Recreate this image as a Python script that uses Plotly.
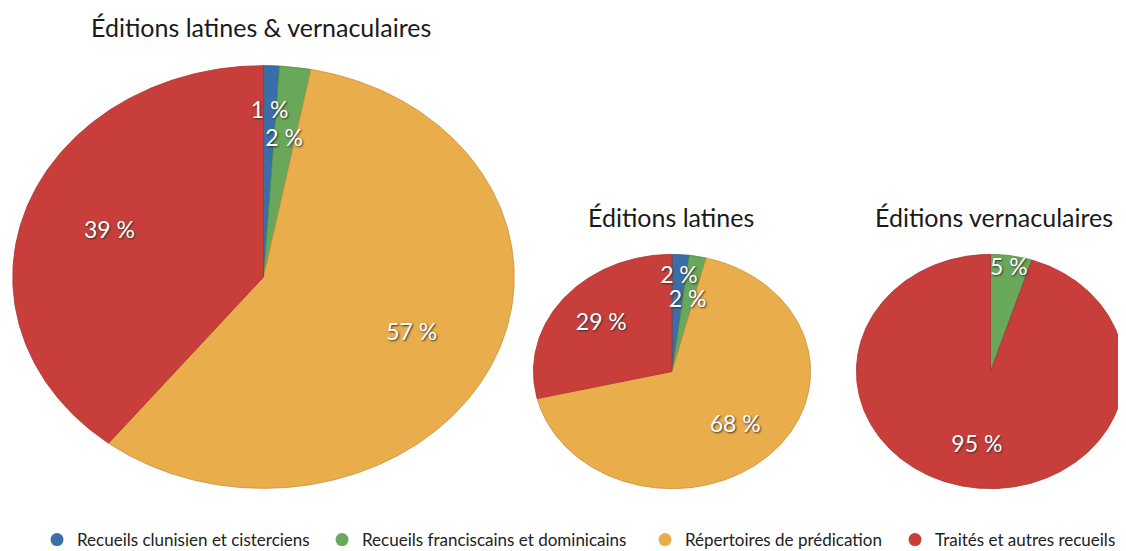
import numpy as np
import plotly.graph_objects as go

# catégories et couleurs
categories = [
    "Recueils clunisien et cisterciens",
    "Recueils franciscains et dominicains",
    "Répertoires de prédication",
    "Traités et autres recueils",
]
colors = ["#3a6ea8", "#69a75a", "#e9ad4b", "#c73e3b"]
edge_colors = ["#2c5585", "#4f8a43", "#c98f33", "#a83331"]

titles = ["Éditions latines & vernaculaires", "Éditions latines", "Éditions vernaculaires"]
vals_total = [1, 2, 57, 39]
vals_latin = [2, 2, 68, 29]
vals_vern = [0, 5, 0, 95]
series = [vals_total, vals_latin, vals_vern]

OFF = 8  # marge du body html
W, H = 1126 - OFF, 551 - OFF
# boîtes des ellipses en pixels de la fenêtre (gauche, droite, haut, bas)
boxes = [(12, 515, 65, 489), (533, 811, 254, 489), (856, 1125, 254, 489)]
title_pos = [(261, 27), (671, 217), (994, 217)]
legend_dots = [57, 342, 665, 915]
# rayon des étiquettes pour les petites parts
label_r = {(0, 0): 0.78, (0, 1): 0.65, (1, 0): 0.81, (1, 1): 0.61, (2, 1): 0.88}

fig = go.Figure()
labels = []

for p, vals in enumerate(series):
    ax = "" if p == 0 else str(p + 1)
    total = float(sum(vals))
    start = 0.0
    for i, v in enumerate(vals):
        frac = v / total
        if v == 0:
            continue
        end = start + frac
        n = max(3, int(frac * 400))
        t = np.linspace(start, end, n) * 2 * np.pi
        xs = np.concatenate([[0], np.sin(t), [0]])
        ys = np.concatenate([[0], np.cos(t), [0]])
        fig.add_trace(go.Scatter(
            x=xs, y=ys, mode="lines", fill="toself",
            fillcolor=colors[i],
            line=dict(color=edge_colors[i], width=0.8),
            xaxis="x" + ax, yaxis="y" + ax,
            showlegend=False, hoverinfo="text",
            text=f"{categories[i]} : {v} %", hoveron="fills",
        ))
        mid = (start + end) / 2 * 2 * np.pi
        r = label_r.get((p, i), 0.65)
        labels.append((ax, r * np.sin(mid), r * np.cos(mid), f"{v} %"))
        start = end

# étiquettes au-dessus de toutes les parts
for ax, lx, ly, txt in labels:
    fig.add_trace(go.Scatter(
        x=[lx], y=[ly], mode="text", text=[txt], cliponaxis=False,
        textfont=dict(family="Lato", size=23, color="white",
                      shadow="1px 1px 2px #333333"),
        xaxis="x" + ax, yaxis="y" + ax,
        showlegend=False, hoverinfo="skip",
    ))

# entrées de légende, une légende par catégorie
for i, cat in enumerate(categories):
    fig.add_trace(go.Scatter(
        x=[None], y=[None], mode="markers", name=cat,
        legend="legend" if i == 0 else f"legend{i + 1}",
        marker=dict(symbol="circle", size=13, color=colors[i]),
    ))

layout = dict(
    width=W, height=H,
    margin=dict(l=0, r=0, t=0, b=0, autoexpand=False),
    paper_bgcolor="white", plot_bgcolor="white",
    font=dict(family="Lato", color="#222222"),
    annotations=[],
)

for i, dx in enumerate(legend_dots):
    key = "legend" if i == 0 else f"legend{i + 1}"
    layout[key] = dict(
        x=(dx - 20 - OFF) / W, xanchor="left",
        y=1 - (540 - OFF) / H, yanchor="middle",
        font=dict(size=17, color="#222222"), itemwidth=30,
        bgcolor="rgba(0,0,0,0)",
    )

for p, (l, r, t, b) in enumerate(boxes):
    ax = "" if p == 0 else str(p + 1)
    layout["xaxis" + ax] = dict(domain=[(l - OFF) / W, min(1, (r - OFF) / W)],
                                range=[-1.003, 1.003],
                                visible=False, fixedrange=True, anchor="y" + ax)
    layout["yaxis" + ax] = dict(domain=[1 - (b - OFF) / H, 1 - (t - OFF) / H],
                                range=[-1.003, 1.003],
                                visible=False, fixedrange=True, anchor="x" + ax)
    tx, ty = title_pos[p]
    layout["annotations"].append(dict(
        text=titles[p], x=(tx - OFF) / W, y=1 - (ty - OFF) / H,
        xref="paper", yref="paper",
        showarrow=False, xanchor="center", yanchor="middle",
        font=dict(family="Lato", size=25, color="#1a1a1a"),
    ))

fig.update_layout(**layout)
fig.write_html("out.html")
